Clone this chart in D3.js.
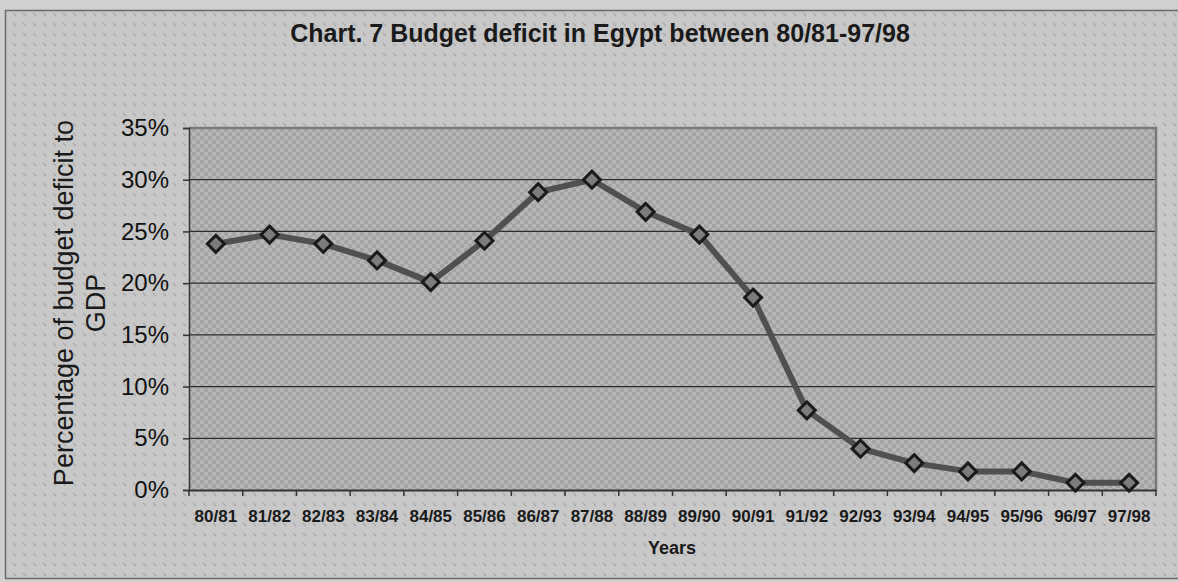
<!DOCTYPE html>
<html><head><meta charset="utf-8">
<script src="https://cdn.jsdelivr.net/npm/d3@7"></script>
<style>body{margin:0;background:#fff}svg{display:block}</style>
</head><body>
<svg id="c" width="1178" height="582"></svg>
<script>
const years = ["80/81","81/82","82/83","83/84","84/85","85/86","86/87","87/88","88/89","89/90","90/91","91/92","92/93","93/94","94/95","95/96","96/97","97/98"];
const deficit = [23.8,24.7,23.8,22.2,20.1,24.1,28.8,30.0,26.9,24.7,18.6,7.7,4.0,2.6,1.8,1.8,0.7,0.7];
const yTicks = [0,5,10,15,20,25,30,35];
const title = "Chart. 7 Budget deficit in Egypt between 80/81-97/98";
const yTitle = ["Percentage of budget deficit to","GDP"];
const xTitle = "Years";

const FONT = "Liberation Sans, Arial, sans-serif";
const svg = d3.select("#c");
const defs = svg.append("defs");
const p1 = defs.append("pattern").attr("id","outer").attr("width",10).attr("height",10).attr("patternUnits","userSpaceOnUse");
p1.append("rect").attr("width",10).attr("height",10).attr("fill","#c8c8c8");
p1.append("line").attr("x1",3).attr("y1",3).attr("x2",6).attr("y2",6).attr("stroke","#a9a9a9").attr("stroke-width",1.2);
const p2 = defs.append("pattern").attr("id","inner").attr("width",8).attr("height",8).attr("patternUnits","userSpaceOnUse");
p2.append("rect").attr("width",8).attr("height",8).attr("fill","#b6b6b6");
p2.append("rect").attr("width",4).attr("height",4).attr("fill","#a4a4a4");
p2.append("rect").attr("x",4).attr("y",4).attr("width",4).attr("height",4).attr("fill","#a4a4a4");

svg.append("rect").attr("width",1178).attr("height",582).attr("fill","#d0d0d0");
svg.append("rect").attr("x",5.5).attr("y",10.5).attr("width",1180).attr("height",568).attr("fill","url(#outer)").attr("stroke","#6a6a6a").attr("stroke-width",1.5);

const L=189, R=1156, T=128, B=490;
const x = d3.scaleBand().domain(years).range([L,R]);
const y = d3.scaleLinear().domain([0,35]).range([B,T]);

svg.append("rect").attr("x",L).attr("y",T).attr("width",R-L).attr("height",B-T).attr("fill","url(#inner)");
// grid
svg.append("g").selectAll("line").data(yTicks.filter(d=>d>0&&d<35)).join("line")
  .attr("x1",L).attr("x2",R).attr("y1",d=>y(d)).attr("y2",d=>y(d)).attr("stroke","#2e2e2e").attr("stroke-width",1.2);
// top/right border
svg.append("path").attr("d",`M${L},${T}H${R}V${B}`).attr("fill","none").attr("stroke","#7a7a7a").attr("stroke-width",2.5);

const yAxis = svg.append("g").attr("transform",`translate(${L},0)`)
  .call(d3.axisLeft(y).tickValues(yTicks).tickFormat(d=>d+"%").tickSize(6).tickPadding(14));
yAxis.select(".domain").attr("stroke","#333").attr("stroke-width",1.5);
yAxis.selectAll(".tick line").attr("stroke","#333").attr("stroke-width",1.5);
yAxis.selectAll("text").attr("font-family",FONT).attr("font-size",24).attr("fill","#111");

const xAxis = svg.append("g").attr("transform",`translate(0,${B})`)
  .call(d3.axisBottom(x).tickSize(0).tickPadding(20));
xAxis.select(".domain").attr("stroke","#333").attr("stroke-width",2);
xAxis.selectAll("text").attr("font-family",FONT).attr("font-size",17).attr("font-weight","bold").attr("fill","#1a1a1a");
// category boundary ticks
svg.append("g").selectAll("line").data(years.concat(["end"])).join("line")
  .attr("x1",(d,i)=>L+i*x.step()).attr("x2",(d,i)=>L+i*x.step())
  .attr("y1",B).attr("y2",B+6).attr("stroke","#333").attr("stroke-width",1.5);

const cx = d=>x(d)+x.bandwidth()/2;
svg.append("path").datum(years.map((d,i)=>[cx(d),y(deficit[i])]))
  .attr("d",d3.line())
  .attr("fill","none").attr("stroke","#505050").attr("stroke-width",6).attr("stroke-linejoin","round");
svg.append("g").selectAll("path").data(years).join("path")
  .attr("transform",(d,i)=>`translate(${cx(d)},${y(deficit[i])}) rotate(45)`)
  .attr("d","M-6,-6H6V6H-6Z").attr("fill","#7c7c7c").attr("stroke","#1a1a1a").attr("stroke-width",3);

svg.append("text").attr("x",600).attr("y",42).attr("text-anchor","middle")
  .attr("font-family",FONT).attr("font-size",25).attr("font-weight","bold").attr("fill","#1a1a1a").text(title);
svg.append("text").attr("x",672).attr("y",554).attr("text-anchor","middle")
  .attr("font-family",FONT).attr("font-size",18).attr("font-weight","bold").attr("fill","#1a1a1a").text(xTitle);
const yt = svg.append("text").attr("transform","translate(0,303) rotate(-90)").attr("text-anchor","middle")
  .attr("font-family",FONT).attr("font-size",27).attr("fill","#1a1a1a");
yTitle.forEach((t,i)=>yt.append("tspan").attr("x",0).attr("y",i===0?73:105).text(t));
</script>
</body></html>
